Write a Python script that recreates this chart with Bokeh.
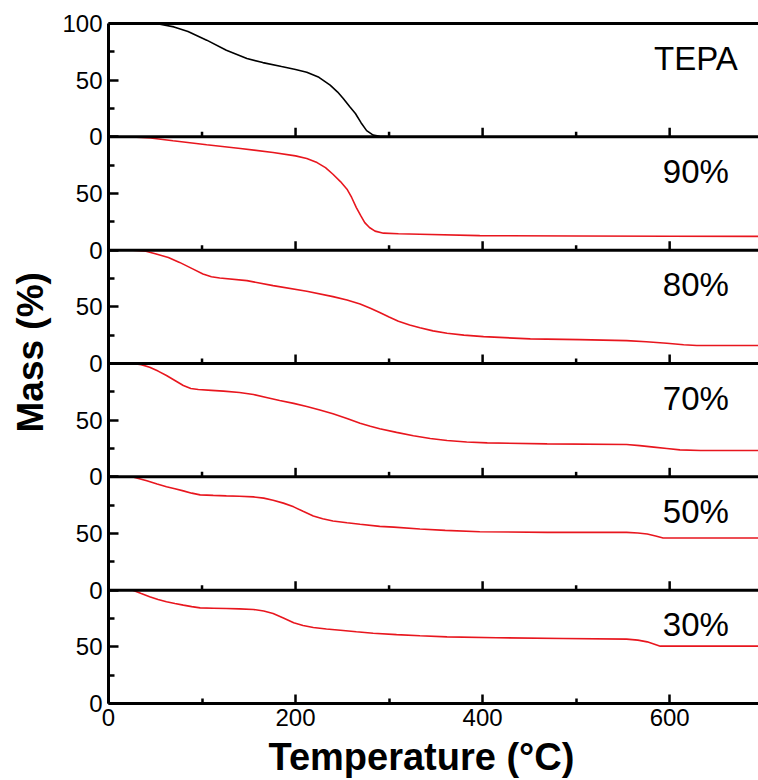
import numpy as np
from bokeh.plotting import figure
from bokeh.models import Range1d, FixedTicker, Span, Label, Title, LinearAxis
from bokeh.embed import file_html
from bokeh.resources import INLINE

# ---------------- data ----------------
labels = ["TEPA", "90%", "80%", "70%", "50%", "30%"]
colors = ["black", "#e8161e", "#e8161e", "#e8161e", "#e8161e", "#e8161e"]

t_tepa = [25, 40, 55, 70, 85, 105, 126, 148, 165, 185, 200, 212, 225, 237, 245, 251, 258, 264, 270, 276, 283, 290, 300, 310]
m_tepa = [100, 100, 99.3, 97, 93, 85.3, 76.4, 69.1, 65.5, 62, 59.4, 57, 52.5, 45.6, 39.5, 33.8, 26.5, 20.6, 12.5, 5.5, 1.5, 0.4, 0, 0]

t_90 = [25, 45, 69, 105, 141, 176, 200, 212, 223, 232, 240, 248, 255, 260, 265, 270, 274, 279, 285, 294, 310, 333, 397, 500, 600, 695]
m_90 = [100, 99, 96.5, 93, 89.7, 86.2, 83.2, 80.8, 77.3, 72.8, 67, 60.5, 53.8, 46.5, 37.6, 30, 24.3, 20, 16.8, 15, 14.5, 14.1, 12.8, 12.5, 12.3, 12.2]

t_80 = [26, 40, 51, 64, 76, 90, 101, 110, 119, 148, 176, 212, 240, 255, 269, 280, 290, 300, 310, 322, 333, 347, 362, 380, 401, 451, 504, 554, 575, 597, 615, 629, 695]
m_80 = [100, 99, 96.6, 93.5, 89.2, 83.5, 79, 76.5, 75.4, 73.1, 68.7, 63.7, 59, 56, 52.5, 48.8, 45, 41, 37.3, 34, 31.5, 28.8, 26.7, 25, 23.7, 21.7, 21.1, 20.2, 19.2, 17.9, 16.6, 15.9, 15.9]

t_70 = [26, 35, 44, 53, 62, 71, 80, 88, 96, 110, 123, 140, 155, 170, 183, 198, 212, 226, 240, 255, 269, 280, 290, 308, 326, 344, 362, 383, 405, 469, 554, 568, 583, 597, 611, 633, 695]
m_70 = [100, 99, 96.7, 93.3, 89.4, 85, 80.6, 78, 77, 76.3, 75.6, 74.4, 72.6, 69.8, 67.3, 64.8, 62, 59, 55.6, 51.5, 47.3, 44.6, 42.4, 39.2, 36.2, 33.8, 32, 30.8, 30, 29.1, 28.5, 27.5, 26.2, 25, 23.8, 23.3, 23.3]

t_50 = [25, 33, 41, 52, 62, 71, 80, 89, 98, 112, 126, 140, 155, 166, 176, 187, 198, 208, 219, 229, 240, 255, 269, 290, 305, 333, 360, 397, 469, 554, 566, 576, 585, 593, 695]
m_50 = [100, 98.4, 96.5, 93.6, 91.2, 89.5, 87.6, 85.6, 84.1, 83.6, 83.2, 82.9, 82.3, 81.2, 79.4, 76.8, 73.5, 69.6, 65.5, 63, 61.1, 59.5, 58.2, 56.3, 55.6, 54, 52.8, 51.5, 51, 51, 50.5, 49.5, 47.8, 46, 46]

t_30 = [26, 35, 44, 53, 62, 71, 80, 89, 98, 112, 126, 140, 155, 166, 176, 187, 198, 208, 219, 233, 248, 265, 283, 308, 333, 362, 415, 486, 554, 566, 576, 583, 590, 695]
m_30 = [100, 97, 94.1, 91.7, 89.7, 88.2, 86.8, 85.5, 84.4, 84.1, 83.8, 83.5, 83, 81.6, 79.4, 75.5, 71.2, 68.8, 67.1, 65.8, 64.7, 63.3, 62, 60.8, 59.8, 58.8, 58, 57.4, 56.8, 55.9, 54.4, 52.5, 50.6, 50.6]

temps = [t_tepa, t_90, t_80, t_70, t_50, t_30]
masses = [m_tepa, m_90, m_80, m_70, m_50, m_30]

x_major = [0, 200, 400, 600]
x_minor = [100, 300, 500]

FONT = "Liberation Sans"
PANEL = 100  # each panel spans 0..100 %
n = len(labels)

p = figure(width=758, height=780, output_backend="svg", toolbar_location=None,
           x_range=Range1d(0, 695), y_range=Range1d(0, PANEL * n),
           min_border_left=108, min_border_right=0, min_border_top=23, min_border_bottom=77)
p.xgrid.visible = False
p.ygrid.visible = False
p.outline_line_color = None
p.background_fill_color = "white"
p.border_fill_color = "white"

# curves: panel k from top (k=0) is placed at offset (n-1-k)*100
for k in range(n):
    off = (n - 1 - k) * PANEL
    ys = [m + off for m in masses[k]]
    p.line(temps[k], ys, line_color=colors[k], line_width=1.6)

# x axis (bottom)
xa = p.xaxis[0]
xa.ticker = FixedTicker(ticks=x_major, minor_ticks=x_minor)
xa.axis_line_width = 3
xa.major_tick_in = 9
xa.major_tick_out = 0
xa.minor_tick_in = 5
xa.minor_tick_out = 0
xa.major_tick_line_width = 2.5
xa.minor_tick_line_width = 2.5
xa.major_label_text_font = FONT
xa.major_label_text_font_size = "24px"
xa.major_label_text_color = "black"
xa.major_label_standoff = 5

# y axis (left): 0 / 50 per panel, 100 at top
y_major = [i * 50 for i in range(2 * n + 1)]
y_minor = [25 + i * 50 for i in range(2 * n)]
overrides = {}
for v in y_major:
    overrides[v] = "100" if v == PANEL * n else str(v % PANEL)
ya = p.yaxis[0]
ya.ticker = FixedTicker(ticks=y_major, minor_ticks=y_minor)
ya.major_label_overrides = overrides
ya.axis_line_width = 3
ya.major_tick_in = 10
ya.major_tick_out = 0
ya.minor_tick_in = 6
ya.minor_tick_out = 0
ya.major_tick_line_width = 2.5
ya.minor_tick_line_width = 2.5
ya.major_label_text_font = FONT
ya.major_label_text_font_size = "24px"
ya.major_label_text_color = "black"
ya.major_label_standoff = 6

# top border as a bare axis line
top_axis = LinearAxis(ticker=FixedTicker(ticks=[]), axis_line_width=3,
                      major_tick_in=0, major_tick_out=0, minor_tick_in=0, minor_tick_out=0,
                      major_label_standoff=0, major_label_text_font_size="0px")
p.add_layout(top_axis, "above")

# invisible spacer below the tick labels (pushes the x title down)
spacer = LinearAxis(ticker=FixedTicker(ticks=[350], minor_ticks=[]), axis_line_color=None,
                    major_tick_in=0, major_tick_out=7, minor_tick_in=0, minor_tick_out=0,
                    major_tick_line_color=None, minor_tick_line_color=None,
                    major_label_overrides={350: ""}, major_label_standoff=0,
                    major_label_text_font_size="1px")
p.add_layout(spacer, "below")

# axis titles
p.add_layout(Title(text="Temperature (°C)", align="left", vertical_align="top",
                   offset=160, standoff=0,
                   text_font=FONT, text_font_style="bold", text_font_size="38px",
                   text_color="black"), "below")
p.add_layout(Title(text="Mass (%)", align="left", vertical_align="top",
                   offset=271, standoff=14,
                   text_font=FONT, text_font_style="bold", text_font_size="37px",
                   text_color="black"), "left")

# inner panel boundaries
for b in range(1, n):
    p.add_layout(Span(location=b * PANEL, dimension="width", line_color="black", line_width=3))

# inward tick marks on inner boundaries
tx, ty, tl = [], [], []
for b in range(1, n):
    for v in x_major[1:]:
        tx.append(v); ty.append(b * PANEL); tl.append(9)
    for v in x_minor:
        tx.append(v); ty.append(b * PANEL); tl.append(5)
p.ray(x=tx, y=ty, length=tl, length_units="screen", angle=np.pi / 2,
      line_color="black", line_width=2.5)

# panel labels
for k in range(n):
    top = (n - k) * PANEL
    p.add_layout(Label(x=628, y=top - 30.5, text=labels[k], text_align="center",
                       text_baseline="alphabetic", text_font=FONT,
                       text_font_size="33px", text_color="black"))

open("out.html", "w").write(file_html(p, INLINE))
